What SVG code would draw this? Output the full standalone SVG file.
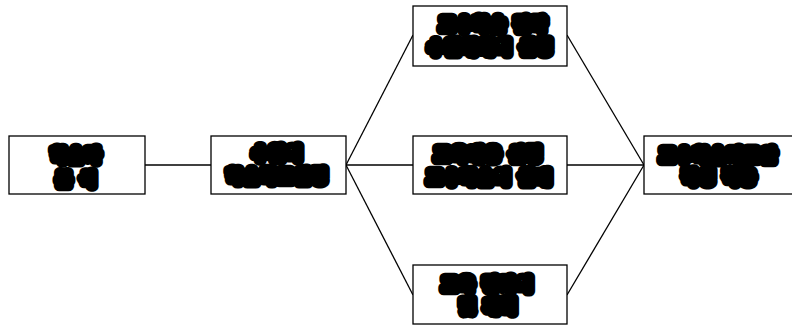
<svg xmlns="http://www.w3.org/2000/svg" width="792" height="327" viewBox="0 0 792 327">
  <style>
    .box { fill: #ffffff; stroke: #000000; stroke-width: 1.3; }
    .link { fill: none; stroke: #000000; stroke-width: 1.3; }
    .lbl { font-family: "Noto Sans CJK KR", "Noto Sans", sans-serif; font-size: 14px; font-weight: 900;
           letter-spacing: 4px;
           fill: #000000; stroke: #000000; stroke-width: 11; stroke-linejoin: round; stroke-linecap: round;
           text-anchor: middle; }
  </style>
  <rect width="792" height="327" fill="#ffffff"/>

  <g id="connectors">
    <line class="link" x1="145" y1="165" x2="211" y2="165"/>
    <line class="link" x1="346" y1="165" x2="413" y2="35"/>
    <line class="link" x1="346" y1="165" x2="413" y2="165"/>
    <line class="link" x1="346" y1="165" x2="413" y2="295"/>
    <line class="link" x1="567" y1="35" x2="644" y2="165"/>
    <line class="link" x1="567" y1="165" x2="644" y2="165"/>
    <line class="link" x1="567" y1="295" x2="644" y2="165"/>
  </g>

  <g id="node-learner">
    <rect class="box" x="9" y="136" width="136" height="58"/>
    <text class="lbl" x="78" y="160">학습자</text>
    <text class="lbl" x="78" y="184">분 석</text>
  </g>

  <g id="node-goal">
    <rect class="box" x="211" y="136" width="135" height="58"/>
    <text class="lbl" x="279" y="158">수업의</text>
    <text class="lbl" x="279" y="181">학습목표설정</text>
  </g>

  <g id="node-strategy">
    <rect class="box" x="413" y="6" width="154" height="60"/>
    <text class="lbl" x="495" y="29">교수학습 전략</text>
    <text class="lbl" x="492" y="52">수업매체의 선정</text>
  </g>

  <g id="node-content">
    <rect class="box" x="413" y="136" width="154" height="58"/>
    <text class="lbl" x="490" y="159">교육내용 선정</text>
    <text class="lbl" x="491" y="182">교수학습의 설계</text>
  </g>

  <g id="node-evaluation">
    <rect class="box" x="413" y="265" width="154" height="59"/>
    <text class="lbl" x="489" y="289">교육 평가의</text>
    <text class="lbl" x="490" y="311">및 계획</text>
  </g>

  <g id="node-plan">
    <rect class="box" x="644" y="136" width="160" height="58"/>
    <text class="lbl" x="720" y="160">교수학습지도안</text>
    <text class="lbl" x="721" y="182">작성 적용</text>
  </g>
</svg>
